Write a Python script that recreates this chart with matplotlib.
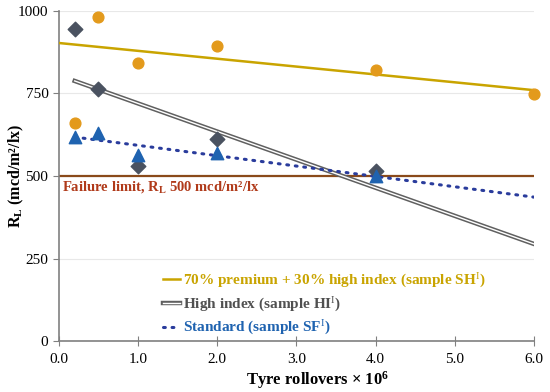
import matplotlib
matplotlib.use('Agg')
import matplotlib.pyplot as plt
import matplotlib.patheffects as pe
import numpy as np

plt.rcParams.update({
    'font.family': 'Liberation Serif',
    'mathtext.fontset': 'custom',
    'mathtext.rm': 'Liberation Serif',
    'mathtext.bf': 'Liberation Serif:bold',
    'mathtext.it': 'Liberation Serif:italic',
    'font.size': 11,
})

# datos
x_sh = [0.2, 0.5, 1.0, 2.0, 4.0, 6.0]
y_sh = [660, 982, 842, 894, 821, 748]
x_hi = [0.2, 0.5, 1.0, 2.0, 4.0]
y_hi = [945, 764, 530, 612, 515]
x_sf = [0.2, 0.5, 1.0, 2.0, 4.0]
y_sf = [618, 630, 564, 570, 500]

# líneas de tendencia (extremos leídos)
tr_sh_x = [0.0, 6.0]
tr_sh_y = [903, 760]
tr_hi_x = [0.2, 6.0]
tr_hi_y = [788, 294]
tr_sf_x = [0.2, 6.0]
tr_sf_y = [618, 436]

limite = 500

COR_SH = '#c9a400'
COR_SH_PT = '#e39a1c'
COR_HI = '#4a5260'
COR_HI_TXT = '#505050'
COR_SF = '#1f63b0'
COR_SF_LN = '#2a3c9c'
COR_LIM = '#8a4a1a'
COR_LIM_TXT = '#b03a1a'

fig = plt.figure(figsize=(5.5, 3.92), dpi=100)
ax = fig.add_axes([0.107, 0.130, 0.864, 0.842])

ax.set_xlim(0, 6)
ax.set_ylim(0, 1000)
ax.set_xticks(np.arange(0, 6.1, 1.0))
ax.set_xticklabels([f'{v:.1f}' for v in np.arange(0, 6.1, 1.0)])
ax.set_yticks([0, 250, 500, 750, 1000])
ax.grid(axis='y', color='#e8e8e8', linewidth=0.8)
ax.set_axisbelow(True)

for s in ['top', 'right']:
    ax.spines[s].set_visible(False)
for s in ['left', 'bottom']:
    ax.spines[s].set_color('#808080')
    ax.spines[s].set_linewidth(1.2)
ax.tick_params(axis='x', direction='inout', length=7, color='#808080', pad=5)
ax.tick_params(axis='y', direction='out', length=4, color='#808080')

# límite de falla
ax.plot([0, 6], [limite, limite], color=COR_LIM, linewidth=1.6, zorder=2)
ax.text(0.04, 468, r'Failure limit, R$_\mathbf{L}$ 500 mcd/m²/lx', color=COR_LIM_TXT,
        fontweight='bold', fontsize=10.5, va='center', ha='left')

# tendencias
l_sh, = ax.plot(tr_sh_x, tr_sh_y, color=COR_SH, linewidth=1.8, zorder=3,
                label=r'70% premium + 30% high index (sample SH$^\mathrm{I}$)')
l_hi, = ax.plot(tr_hi_x, tr_hi_y, color='white', linewidth=1.0, zorder=3,
                path_effects=[pe.Stroke(linewidth=3.2, foreground='#606060'), pe.Normal()],
                label=r'High index (sample HI$^\mathrm{I}$)')
l_sf, = ax.plot(tr_sf_x, tr_sf_y, color=COR_SF_LN, linewidth=2.2, linestyle=(0, (0.6, 2.2)),
                dash_capstyle='round', zorder=3,
                label=r'Standard (sample SF$^\mathrm{I}$)')

# puntos
ax.scatter(x_sh, y_sh, marker='o', s=60, color=COR_SH_PT, zorder=4, clip_on=False)
ax.scatter(x_hi, y_hi, marker='D', s=55, color=COR_HI, zorder=4, clip_on=False)
ax.scatter(x_sf, y_sf, marker='^', s=80, color=COR_SF, zorder=5, clip_on=False)

leg = ax.legend(handles=[l_sh, l_hi, l_sf], loc='lower left', bbox_to_anchor=(0.19, -0.03),
                frameon=False, handlelength=1.1, handletextpad=0.2, labelspacing=0.35,
                prop={'weight': 'bold', 'size': 11})
for t, c in zip(leg.get_texts(), [COR_SH, COR_HI_TXT, COR_SF]):
    t.set_color(c)

ax.set_xlabel(r'Tyre rollovers × 10$^\mathbf{6}$', fontweight='bold', fontsize=12)
ax.xaxis.set_label_coords(0.545, -0.085)
ax.set_ylabel(r'R$_\mathbf{L}$ (mcd/m²/lx)', fontweight='bold', fontsize=11.5)
ax.yaxis.set_label_coords(-0.07, 0.5)

fig.savefig('out.png', dpi=100)
